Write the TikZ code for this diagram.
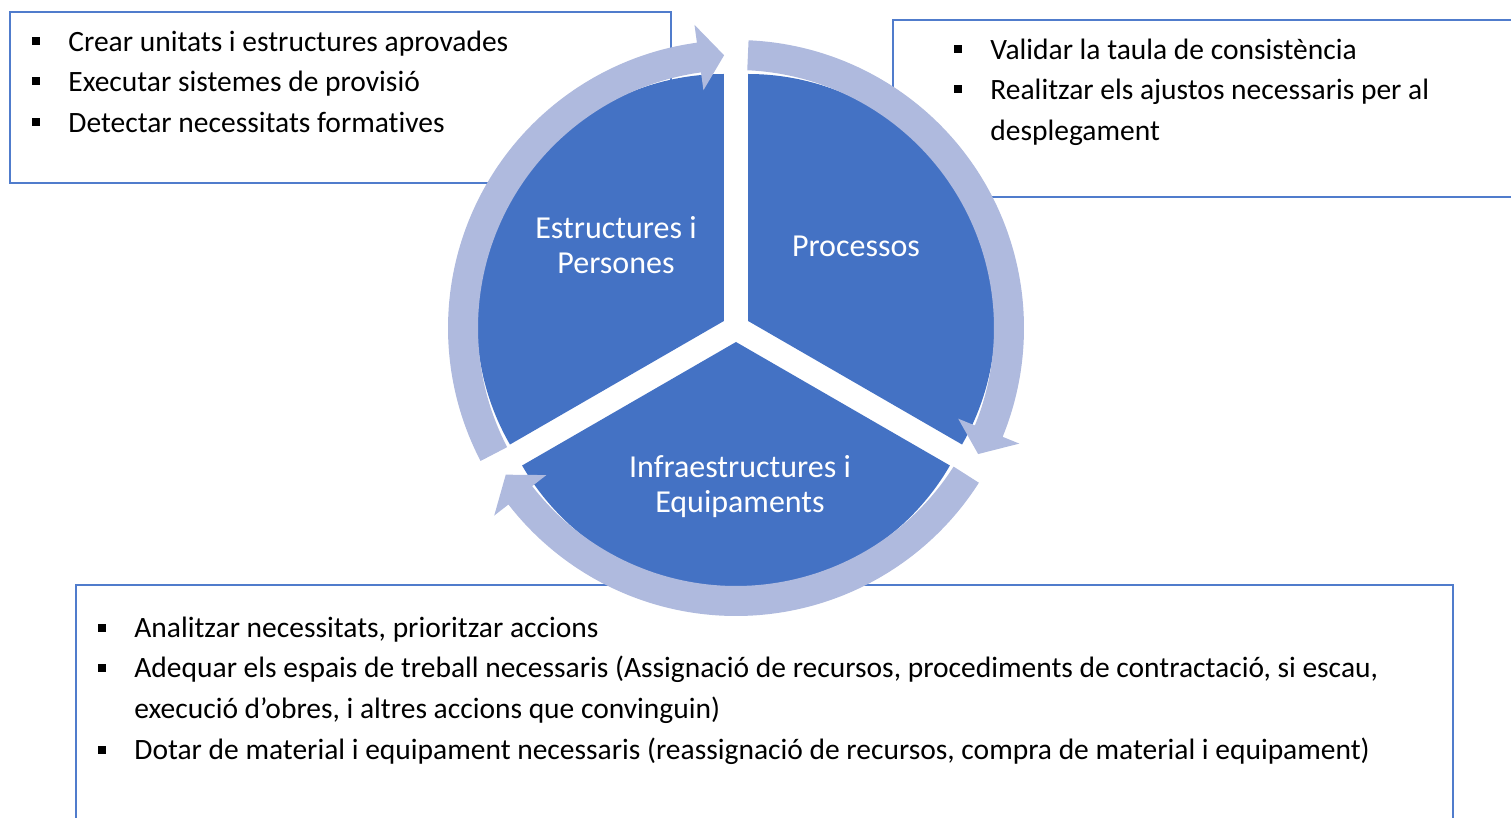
\documentclass[tikz,border=0pt]{standalone}
\usepackage{fontspec}
\setmainfont{Carlito}[Ligatures=NoCommon]
\usetikzlibrary{calc}
\definecolor{segblue}{RGB}{68,114,196}
\definecolor{ringblue}{RGB}{175,186,222}
\definecolor{frameblue}{RGB}{80,124,204}

% ring arrow around the cycle: #1 = start angle, #2 = tip angle (clockwise)
\newcommand{\cyclearrow}[3]{%
  \fill[ringblue] ($(C)+(#1:288)$) arc[start angle=#1, end angle=#2+5.3, radius=288]
    -- ($(C)+(#2+5.3:306)$) -- coordinate (#3) ($(C)+(#2:273)$)
    -- ($(C)+(#2+5.3:240)$) -- ($(C)+(#2+5.3:258)$)
    arc[start angle=#2+5.3, end angle=#1, radius=258] -- cycle;}

\begin{document}
\begin{tikzpicture}[x=0.5pt,y=0.5pt,
  panel/.style={draw=frameblue, line width=0.6pt, fill=white},
  bul/.style={fill=black, inner sep=0pt, minimum size=4pt},
  item/.style={anchor=base west, inner sep=0pt, font=\fontsize{14.75}{17}\selectfont},
  seglabel/.style={text=white, align=center, inner sep=0pt,
    font=\fontsize{16}{17.5}\selectfont},
  segment/.style={fill=segblue}]
\useasboundingbox (0,0) rectangle (1511,-818);

% text panels
\draw[panel] (10,-12) rectangle (671,-183);
\draw[panel] (893,-20) rectangle (1540,-197);
\draw[panel] (76,-585) rectangle (1453,-840);

% centre of the cycle
\coordinate (C) at (736,-328);

% the three pie segments, each pushed out along its bisector
\fill[segment] ($(C)+(150:14)$) -- +(90:247) arc[start angle=90, end angle=210, radius=247] -- cycle;
\fill[segment] ($(C)+(30:14)$) -- +(-30:247) arc[start angle=-30, end angle=90, radius=247] -- cycle;
\fill[segment] ($(C)+(270:14)$) -- +(210:247) arc[start angle=210, end angle=330, radius=247] -- cycle;

% circular arrows between the segments
\cyclearrow{207.5}{92.5}{tipA}
\cyclearrow{87.5}{-27.5}{tipB}
\cyclearrow{327.5}{212.5}{tipC}

% segment labels
\node[seglabel] (est) at (616,-245) {Estructures i\\Persones};
\node[seglabel] (proc) at (856,-246) {Processos};
\node[seglabel] (infra) at (740,-487) {Infraestructures i\\Equipaments};

% upper-left panel
\node[bul] (ul1b) at (36,-41.5) {};
\node[item] (ul1) at (68,-51.5) {Crear unitats i estructures aprovades};
\node[bul] (ul2b) at (36,-81.5) {};
\node[item] (ul2) at (68,-91.5) {Executar sistemes de provisió};
\node[bul] (ul3b) at (36,-122.5) {};
\node[item] (ul3) at (68,-132.5) {Detectar necessitats formatives};

% upper-right panel
\node[bul] (ur1b) at (958,-49.5) {};
\node[item] (ur1) at (990,-59.5) {Validar la taula de consistència};
\node[bul] (ur2b) at (958,-89.5) {};
\node[item] (ur2) at (990,-99.5) {Realitzar els ajustos necessaris per al};
\node[item] (ur3) at (990,-140.5) {desplegament};

% lower panel
\node[bul] (lo1b) at (102,-627.5) {};
\node[item] (lo1) at (134,-637.5) {Analitzar necessitats, prioritzar accions};
\node[bul] (lo2b) at (102,-667.5) {};
\node[item] (lo2) at (134,-677.5) {Adequar els espais de treball necessaris (Assignació de recursos, procediments de contractació, si escau,};
\node[item] (lo3) at (134,-718.5) {execució d’obres, i altres accions que convinguin)};
\node[bul] (lo4b) at (102,-749.5) {};
\node[item] (lo4) at (134,-759.5) {Dotar de material i equipament necessaris (reassignació de recursos, compra de material i equipament)};
\end{tikzpicture}
\end{document}
